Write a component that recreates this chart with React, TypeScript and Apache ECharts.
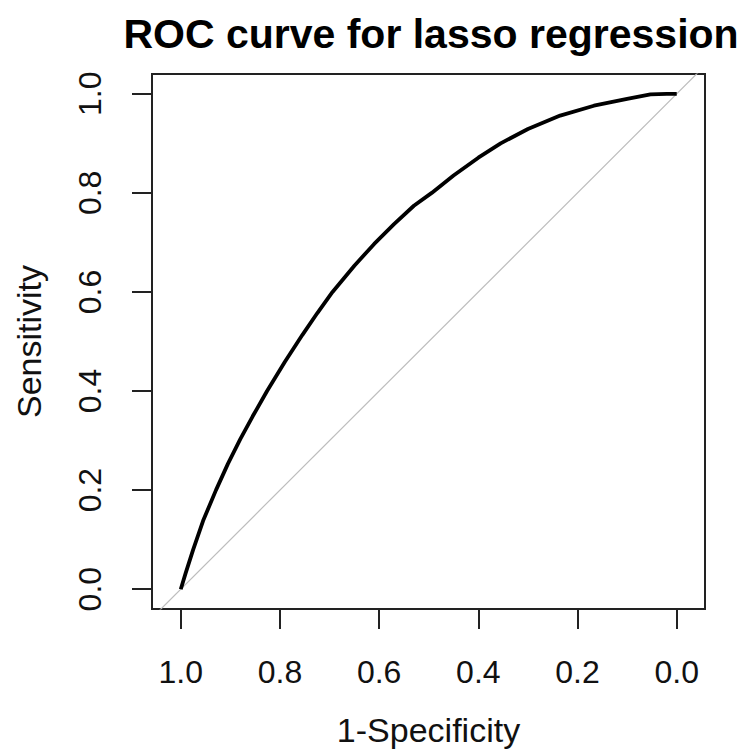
import React, { useEffect, useRef } from "react";
import * as echarts from "echarts";

// ROC curve points (x axis shows specificity, reversed: 1.0 on the left)
const specificity = [1.0, 0.99, 0.975, 0.955, 0.929, 0.905, 0.88, 0.855, 0.826, 0.79, 0.755, 0.725, 0.694, 0.65, 0.61, 0.57, 0.53, 0.494, 0.45, 0.4, 0.355, 0.3, 0.235, 0.167, 0.1, 0.053, 0.02, 0.0];
const sensitivity = [0.0, 0.033, 0.08, 0.138, 0.2, 0.253, 0.303, 0.349, 0.4, 0.459, 0.513, 0.557, 0.6, 0.653, 0.697, 0.737, 0.774, 0.8, 0.835, 0.871, 0.9, 0.929, 0.956, 0.976, 0.99, 0.999, 1.0, 1.0];

// chance diagonal (sensitivity = 1 - specificity), clipped to plot box
const diagX = [1.2, -0.2];
const diagY = [-0.2, 1.2];

const tickValues = [0, 0.2, 0.4, 0.6, 0.8, 1.0];

const titleText = "ROC curve for lasso regression";
const xName = "1-Specificity";
const yName = "Sensitivity";

const FONT = "Liberation Sans, Arial, sans-serif";

export default function App() {
  const ref = useRef<HTMLDivElement>(null);
  useEffect(() => {
    if (!ref.current) return;
    const chart = echarts.init(ref.current, undefined, { renderer: "svg" });
    const curve = specificity.map((v, i) => [v, sensitivity[i]]);
    const diag = diagX.map((v, i) => [v, diagY[i]]);
    chart.setOption({
      animation: false,
      backgroundColor: "#ffffff",
      title: {
        text: titleText,
        left: 426,
        top: 8,
        textAlign: "center",
        textStyle: { fontFamily: FONT, fontWeight: "bold", fontSize: 41, color: "#000" },
      },
      grid: {
        left: 152,
        top: 74,
        width: 553,
        height: 535,
        show: true,
        borderColor: "#222",
        borderWidth: 2,
        backgroundColor: "transparent",
      },
      xAxis: {
        type: "value",
        inverse: true,
        min: -0.057,
        max: 1.058,
        position: "bottom",
        name: xName,
        nameLocation: "middle",
        nameGap: 104,
        nameTextStyle: { fontFamily: FONT, fontSize: 34, color: "#111" },
        axisLine: { show: false, onZero: false },
        axisTick: { show: true, length: 20, customValues: tickValues, lineStyle: { color: "#222", width: 2 } },
        axisLabel: {
          customValues: tickValues,
          formatter: (v: number) => v.toFixed(1),
          fontFamily: FONT,
          fontSize: 32,
          color: "#111",
          margin: 47,
        },
        splitLine: { show: false },
      },
      yAxis: {
        type: "value",
        min: -0.04,
        max: 1.04,
        position: "left",
        name: yName,
        nameLocation: "middle",
        nameGap: 106,
        nameTextStyle: { fontFamily: FONT, fontSize: 34, color: "#111" },
        axisLine: { show: false, onZero: false },
        axisTick: { show: true, length: 20, customValues: tickValues, lineStyle: { color: "#222", width: 2 } },
        axisLabel: {
          customValues: tickValues,
          formatter: (v: number) => v.toFixed(1),
          fontFamily: FONT,
          fontSize: 32,
          color: "#111",
          rotate: 90,
          margin: 46,
        },
        splitLine: { show: false },
      },
      series: [
        {
          type: "line",
          data: diag,
          showSymbol: false,
          clip: true,
          lineStyle: { color: "#bdbdbd", width: 1.2 },
          silent: true,
          z: 1,
        },
        {
          type: "line",
          data: curve,
          showSymbol: false,
          clip: true,
          lineStyle: { color: "#000", width: 3.8 },
          silent: true,
          z: 2,
        },
      ],
    });
    return () => chart.dispose();
  }, []);
  return (
    <div
      ref={ref}
      style={{ position: "fixed", left: 0, top: 0, width: 749, height: 752, background: "#fff" }}
    />
  );
}
